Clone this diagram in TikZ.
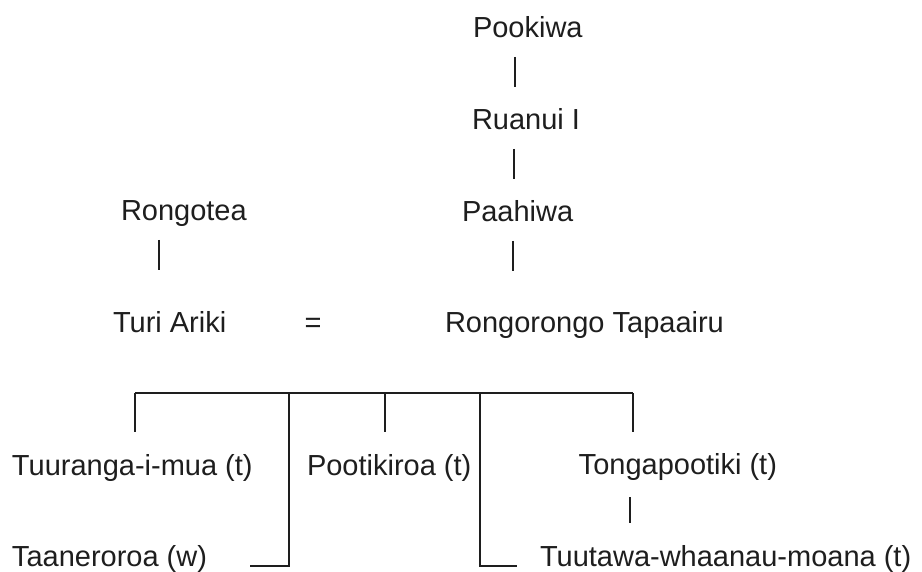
\documentclass[tikz,border=0pt]{standalone}
\usepackage{fontspec}
\setmainfont{Liberation Sans}
\definecolor{ink}{HTML}{1E1E1E}
\tikzset{
  person/.style={inner sep=0pt, outer sep=0pt, text=ink, font=\fontsize{29}{34}\selectfont},
  link/.style={draw=ink, line width=1.4pt},
  bar/.style={draw=ink, line width=1.8pt},
}
\begin{document}
\begin{tikzpicture}[x=1pt,y=-1pt]
  \useasboundingbox[fill=white] (0,0) rectangle (922,572);

  % names
  \node[person, anchor=base west] (pook) at (473,38) {Pookiwa};
  \node[person, anchor=base west] (ruan) at (472,130) {Ruanui I};
  \node[person, anchor=base west] (paah) at (462,222) {Paahiwa};
  \node[person, anchor=base west] (rong) at (121,221) {Rongotea};
  \node[person, anchor=base west] (turi) at (113,333) {Turi Ariki};
  \node[person, anchor=base] (eq) at (313,333) {=};
  \node[person, anchor=base west] (rr) at (445,333) {Rongorongo Tapaairu};
  \node[person, anchor=base west] (tuur) at (12,475) {Tuuranga-i-mua (t)};
  \node[person, anchor=base west] (poot) at (307,475) {Pootikiroa (t)};
  \node[person, anchor=base east] (tong) at (777,474) {Tongapootiki (t)};
  \node[person, anchor=base west] (taan) at (12,566) {Taaneroroa (w)};
  \node[person, anchor=base west] (tuut) at (540,566) {Tuutawa-whaanau-moana (t)};

  % descent ticks
  \coordinate (p1) at (515,57);  \coordinate (p2) at (515,87);
  \coordinate (r1) at (514,149); \coordinate (r2) at (514,179);
  \coordinate (a1) at (513,241); \coordinate (a2) at (513,271);
  \coordinate (g1) at (159,240); \coordinate (g2) at (159,270);
  \coordinate (t1) at (630,497); \coordinate (t2) at (630,523);
  \draw[link] (p1) -- (p2);
  \draw[link] (r1) -- (r2);
  \draw[link] (a1) -- (a2);
  \draw[link] (g1) -- (g2);
  \draw[link] (t1) -- (t2);

  % children bracket
  \coordinate (bl) at (135,393);
  \coordinate (br) at (633,393);
  \coordinate (b1) at (135,432);
  \coordinate (b2) at (289,393); \coordinate (b2f) at (289,566); \coordinate (b2e) at (250,566);
  \coordinate (b3) at (385,393); \coordinate (b3e) at (385,432);
  \coordinate (b4) at (480,393); \coordinate (b4f) at (480,566); \coordinate (b4e) at (517,566);
  \coordinate (b5) at (633,432);
  \draw[bar] (bl) -- (br);
  \draw[link] (bl) -- (b1);
  \draw[link] (br) -- (b5);
  \draw[link] (b3) -- (b3e);
  \draw[link] (b2) -- (b2f) -- (b2e);
  \draw[link] (b4) -- (b4f) -- (b4e);
\end{tikzpicture}
\end{document}
